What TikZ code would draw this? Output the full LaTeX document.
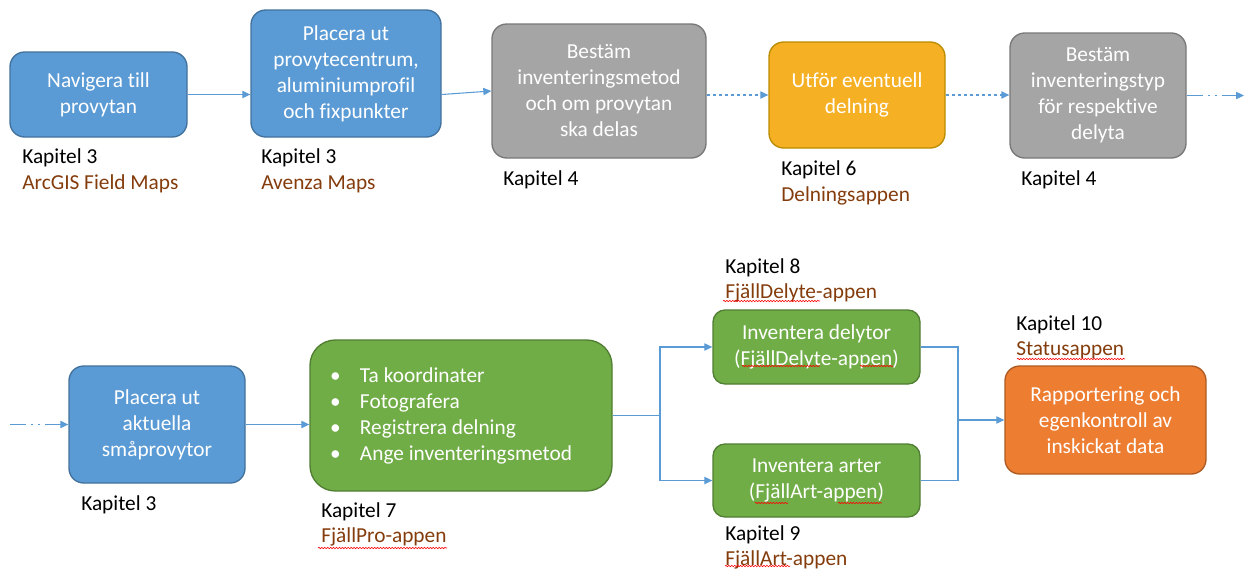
\documentclass[tikz,border=0pt]{standalone}
\usepackage{fontspec}
\setmainfont{Carlito}[RawFeature={-liga;-clig;-dlig;-calt}]
\usetikzlibrary{arrows.meta,decorations.pathmorphing,calc}
\definecolor{lineblue}{HTML}{5B9BD5}
\definecolor{bfill}{HTML}{5B9BD5}\definecolor{bdraw}{HTML}{41719C}
\definecolor{gfill}{HTML}{A5A5A5}\definecolor{gdraw}{HTML}{787878}
\definecolor{yfill}{HTML}{F5B024}\definecolor{ydraw}{HTML}{BC8C00}
\definecolor{grfill}{HTML}{70AD47}\definecolor{grdraw}{HTML}{507E32}
\definecolor{ofill}{HTML}{ED7D31}\definecolor{odraw}{HTML}{AE5A21}
\definecolor{brown}{HTML}{843C0C}
\tikzset{
  box/.style={rounded corners=11pt, line width=1pt, text=white, align=center,
    inner sep=2pt, font=\fontsize{16}{19.5}\selectfont},
  bluebox/.style={box, fill=bfill, draw=bdraw},
  graybox/.style={box, fill=gfill, draw=gdraw},
  yelbox/.style={box, fill=yfill, draw=ydraw},
  greenbox/.style={box, fill=grfill, draw=grdraw},
  orabox/.style={box, fill=ofill, draw=odraw},
  bw/.style 2 args={minimum width=#1*0.75pt, minimum height=#2*0.75pt},
  lbl/.style={anchor=west, inner sep=0pt, font=\fontsize{16}{19.5}\selectfont},
  app/.style={lbl, text=brown},
  conn/.style={draw=lineblue, line width=0.8pt},
  arr/.style={conn, -{Triangle[length=6pt,width=5.5pt]}},
  dsh/.style={dash pattern=on 2.5pt off 2pt},
  ddot/.style={dash pattern=on 12pt off 3.75pt on 1.5pt off 3.75pt on 1.5pt off 3.75pt},
  squig/.style={draw=red, line width=0.45pt, decorate, decoration={snake, amplitude=0.5pt, segment length=2.2pt}}
}
\begin{document}
\begin{tikzpicture}[x=0.75pt,y=-0.75pt]
\useasboundingbox (0,0) rectangle (1246,572);
% row 1
\node[bluebox, bw={177}{85}] (n1) at (98.5,94.5) {Navigera till\\provytan};
\node[bluebox, bw={190}{127}] (n2) at (346,73.5) {Placera ut\\provytecentrum,\\aluminiumprofil\\och fixpunkter};
\node[graybox, bw={214}{134}] (n3) at (599,91) {Bestäm\\inventeringsmetod\\och om provytan\\ska delas};
\node[yelbox, bw={176}{106}] (n4) at (857,95) {Utför eventuell\\delning};
\node[graybox, bw={176}{125}] (n5) at (1098,95.5) {Bestäm\\inventeringstyp\\för respektive\\delyta};
% row 2
\node[bluebox, bw={176}{117}] (n6) at (157,424.5) {Placera ut\\aktuella\\småprovytor};
\node[greenbox, rounded corners=19pt, bw={302}{151}, align=flush left, text width=262*0.75pt, inner xsep=15pt] (n7) at (461,415.5)
  {\makebox[22.5pt][l]{\textbullet}Ta koordinater\\\makebox[22.5pt][l]{\textbullet}Fotografera\\\makebox[22.5pt][l]{\textbullet}Registrera delning\\\makebox[22.5pt][l]{\textbullet}Ange inventeringsmetod};
\node[greenbox, rounded corners=9pt, bw={207}{74}] (n8) at (816.5,347) {Inventera delytor\\(FjällDelyte-appen)};
\node[greenbox, rounded corners=9pt, bw={207}{73}] (n9) at (816.5,480.5) {Inventera arter\\(FjällArt-appen)};
\node[orabox, bw={201}{108}] (n10) at (1105.5,420) {Rapportering och\\egenkontroll av\\inskickat data};
% labels
\node[lbl] (k1) at (22,158) {Kapitel 3};
\node[app] (a1) at (22,184) {ArcGIS Field Maps};
\node[lbl] (k2) at (261,158) {Kapitel 3};
\node[app] (a2) at (261,184) {Avenza Maps};
\node[lbl] (k3) at (503,180) {Kapitel 4};
\node[lbl] (k4) at (781,170) {Kapitel 6};
\node[app] (a4) at (781,196) {Delningsappen};
\node[lbl] (k5) at (1021,180) {Kapitel 4};
\node[lbl] (k6) at (81,505) {Kapitel 3};
\node[lbl] (k7) at (321,512) {Kapitel 7};
\node[app] (a7) at (321,537) {FjällPro-appen};
\node[lbl] (k8) at (725,268) {Kapitel 8};
\node[app] (a8) at (725,293) {FjällDelyte-appen};
\node[lbl] (k10) at (1016,325) {Kapitel 10};
\node[app] (a10) at (1016,350) {Statusappen};
\node[lbl] (k9) at (725,535) {Kapitel 9};
\node[app] (a9) at (725,560) {FjällArt-appen};
% spell-check marks
\draw[squig] (723,301) -- (820,301);
\draw[squig] (742,366) -- (820,366);
\draw[squig] (860,366) -- (893,366);
\draw[squig] (755,503) -- (788,503);
\draw[squig] (838,503) -- (882,503);
\draw[squig] (725,566) -- (790,566);
\draw[squig] (318,548) -- (447,548);
\draw[squig] (1017,359) -- (1125,359);
% connectors
\coordinate (out) at (1244,95.5);
\coordinate (in) at (10,424.5);
\coordinate (s) at (660,415.5);
\coordinate (m) at (958,420);
\draw[arr] (n1.east) -- (n2.west |- n1.east);
\draw[arr] (n2.east |- n1.east) -- (n3.west);
\draw[arr, dsh] (n4.west -| n3.east) -- (n4.west);
\draw[arr, dsh] (n4.east) -- (n4.east -| n5.west);
\draw[arr, ddot] (n5.east) -- (out);
\draw[arr, ddot] (in) -- (n6.west);
\draw[arr] (n6.east) -- (n6.east -| n7.west);
\draw[conn] (n7.east) -- (s);
\draw[arr] (s) |- (n8.west);
\draw[arr] (s) |- (n9.west);
\draw[conn] (n8.east) -| (m);
\draw[conn] (n9.east) -| (m);
\draw[arr] (m) -- (n10.west);
\end{tikzpicture}
\end{document}
